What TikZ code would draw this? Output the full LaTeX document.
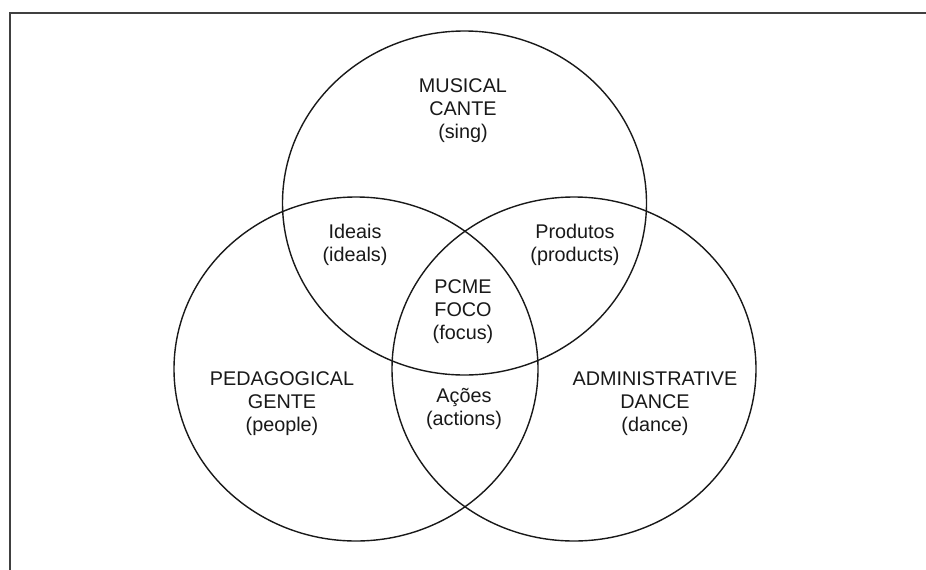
\documentclass[tikz,border=0pt]{standalone}
\usepackage{fontspec}
\setmainfont{Liberation Sans}
\usetikzlibrary{shapes.geometric}
\begin{document}
\begin{tikzpicture}[x=1pt,y=-1pt,
  setcircle/.style={draw=black!90,line width=1.4pt,ellipse,inner sep=0pt,minimum width=364pt,minimum height=344pt},
  lbl/.style={align=center,font=\fontsize{19.8}{22.8}\selectfont,text=black!90,inner sep=0pt}]
\useasboundingbox (0,0) rectangle (926,570);
\clip (0,0) rectangle (926,570);
\fill[white] (0,0) rectangle (926,570);
\draw[line width=2pt,draw=black!75] (960,13) -- (9.5,13) -- (9.5,600);
\node[setcircle] (top) at (464.5,203) {};
\node[setcircle] (left) at (356,369) {};
\node[setcircle] (right) at (574,369) {};
\node[lbl] (musical) at (463,110.5) {MUSICAL\\CANTE\\(sing)};
\node[lbl] (ideais) at (355,245) {Ideais\\(ideals)};
\node[lbl] (produtos) at (575,245) {Produtos\\(products)};
\node[lbl] (pcme) at (463,311.5) {PCME\\FOCO\\(focus)};
\node[lbl] (ped) at (282,403.5) {PEDAGOGICAL\\GENTE\\(people)};
\node[lbl] (acoes) at (464,409) {Ações\\(actions)};
\node[lbl] (adm) at (655,403.5) {ADMINISTRATIVE\\DANCE\\(dance)};
\end{tikzpicture}
\end{document}
